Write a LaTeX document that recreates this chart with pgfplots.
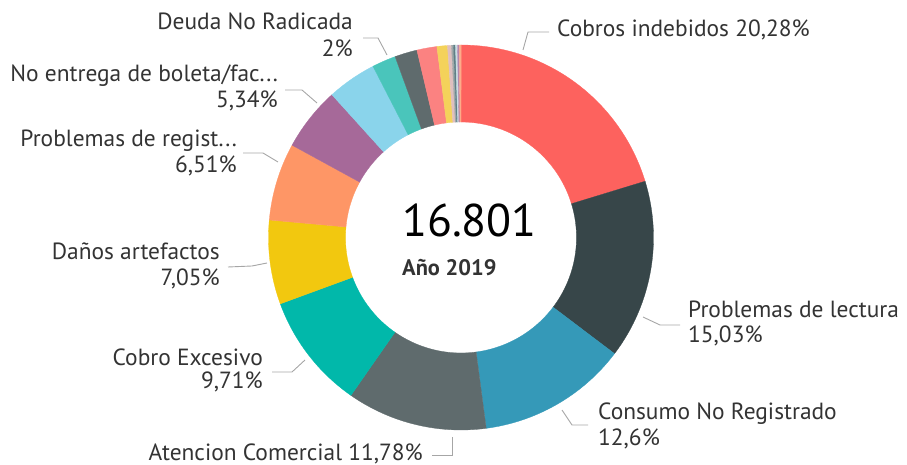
\documentclass[border=0pt]{standalone}
\usepackage{pgfplots}
\usepackage{pgfplotstable}
\pgfplotsset{compat=1.18}
\usepackage{fontspec}
\setmainfont{PT Sans}
\definecolor{c1}{HTML}{FD625E}
\definecolor{c2}{HTML}{374649}
\definecolor{c3}{HTML}{3599B8}
\definecolor{c4}{HTML}{5F6B6D}
\definecolor{c5}{HTML}{01B8AA}
\definecolor{c6}{HTML}{F2C80F}
\definecolor{c7}{HTML}{FE9666}
\definecolor{c8}{HTML}{A66999}
\definecolor{c9}{HTML}{8AD4EB}
\definecolor{c10}{HTML}{4AC5BB}
\definecolor{c11}{HTML}{5F6B6D}
\definecolor{c12}{HTML}{FB8281}
\definecolor{c13}{HTML}{F4D25A}
\definecolor{c14}{HTML}{DFBFBF}
\definecolor{c15}{HTML}{A0A8A9}
\definecolor{c16}{HTML}{5F7F86}
\definecolor{c17}{HTML}{C9DDE3}
\definecolor{c18}{HTML}{B687AC}
\definecolor{c19}{HTML}{FDAB89}
\definecolor{labc}{HTML}{333333}
\definecolor{leadc}{HTML}{A6A6A6}
% value (percent), colour; clockwise from the top
\pgfplotstableread{
value color
20.28 c1
15.03 c2
12.60 c3
11.78 c4
9.71 c5
7.05 c6
6.51 c7
5.34 c8
4.14 c9
2.00 c10
1.88 c11
1.68 c12
0.88 c13
0.33 c14
0.17 c15
0.16 c16
0.17 c17
0.15 c18
0.15 c19
}\donut
\def\cx{461}\def\cy{227.5}\def\Ro{192.5}\def\Ri{115.5}
\xdef\cum{0}
\newcommand\slice[2]{%
  \pgfmathsetmacro\angA{90-3.6*\cum}%
  \pgfmathsetmacro\angB{90-3.6*(\cum+#1)}%
  \edef\doslice{\noexpand\addplot[fill=#2, draw=#2, line width=0.3pt, samples at={0,...,81}, variable=\noexpand\t]
    ({\cx+(\noexpand\t<=40 ? \Ro : \Ri)*cos(\noexpand\t<=40 ? (\angA)+((\angB)-(\angA))*\noexpand\t/40 : (\angB)+((\angA)-(\angB))*(\noexpand\t-41)/40)},
     {\cy+(\noexpand\t<=40 ? \Ro : \Ri)*sin(\noexpand\t<=40 ? (\angA)+((\angB)-(\angA))*\noexpand\t/40 : (\angB)+((\angA)-(\angB))*(\noexpand\t-41)/40)}) -- cycle;}%
  \doslice
  \pgfmathsetmacro\newcum{\cum+#1}%
  \xdef\cum{\newcum}%
}
\begin{document}
\begin{tikzpicture}
\begin{axis}[
  scale only axis, width=907bp, height=465bp,
  xmin=0, xmax=907, ymin=0, ymax=465,
  hide axis, clip=false,
]
\addplot[draw=none, mark=none] coordinates {(0,0) (907,465)};
\pgfplotstablegetrowsof{\donut}
\pgfmathtruncatemacro\nrows{\pgfplotsretval-1}
\pgfplotsforeachungrouped \i in {0,...,\nrows}{%
  \pgfplotstablegetelem{\i}{value}\of\donut \edef\v{\pgfplotsretval}%
  \pgfplotstablegetelem{\i}{color}\of\donut \edef\c{\pgfplotsretval}%
  \slice{\v}{\c}%
}
% leader lines (pixel coords, y measured from bottom)
\addplot[leadc, line width=0.9pt] coordinates {(523,415) (528,433) (549,433)};
\addplot[leadc, line width=0.9pt] coordinates {(643,148) (660,140) (680,140)};
\addplot[leadc, line width=0.9pt] coordinates {(562,55) (572,40) (588,40)};
\addplot[leadc, line width=0.9pt] coordinates {(452,28) (452,10) (432,10)};
\addplot[leadc, line width=0.9pt] coordinates {(305,105) (292,93) (272,93)};
\addplot[leadc, line width=0.9pt] coordinates {(267,202) (252,199) (228,198)};
\addplot[leadc, line width=0.9pt] coordinates {(278,303) (263,312) (243,312)};
\addplot[leadc, line width=0.9pt] coordinates {(317,362) (302,375) (285,375)};
\addplot[leadc, line width=0.9pt] coordinates {(387,410) (378,427) (363,427)};
% labels
\tikzset{lab/.style={text=labc, font=\fontsize{23.5}{27}\selectfont, inner sep=0pt}}
\node[lab, anchor=base west] at (axis cs:557,428) {Cobros indebidos 20,28\%};
\node[lab, anchor=base west] at (axis cs:688,147) {Problemas de lectura};
\node[lab, anchor=base west] at (axis cs:688,122) {15,03\%};
\node[lab, anchor=base west] at (axis cs:598,45) {Consumo No Registrado};
\node[lab, anchor=base west] at (axis cs:598,20) {12,6\%};
\node[lab, anchor=base east] at (axis cs:423,5) {Atencion Comercial 11,78\%};
\node[lab, anchor=base east] at (axis cs:263,99) {Cobro Excesivo};
\node[lab, anchor=base east] at (axis cs:263,76) {9,71\%};
\node[lab, anchor=base east] at (axis cs:220,205) {Daños artefactos};
\node[lab, anchor=base east] at (axis cs:220,179) {7,05\%};
\node[lab, anchor=base east] at (axis cs:237,318) {Problemas de regist...};
\node[lab, anchor=base east] at (axis cs:237,292) {6,51\%};
\node[lab, anchor=base east] at (axis cs:278,383) {No entrega de boleta/fac...};
\node[lab, anchor=base east] at (axis cs:278,357) {5,34\%};
\node[lab, anchor=base east] at (axis cs:353,435) {Deuda No Radicada};
\node[lab, anchor=base east] at (axis cs:353,408) {2\%};
% centre
\node[anchor=base west, inner sep=0pt, text=black, font=\fontsize{46}{50}\selectfont] at (axis cs:402,228) {16.801};
\node[anchor=base west, inner sep=0pt, text=labc, font=\bfseries\fontsize{22.5}{26}\selectfont] at (axis cs:402,189) {Año 2019};
\end{axis}
\end{tikzpicture}
\end{document}
